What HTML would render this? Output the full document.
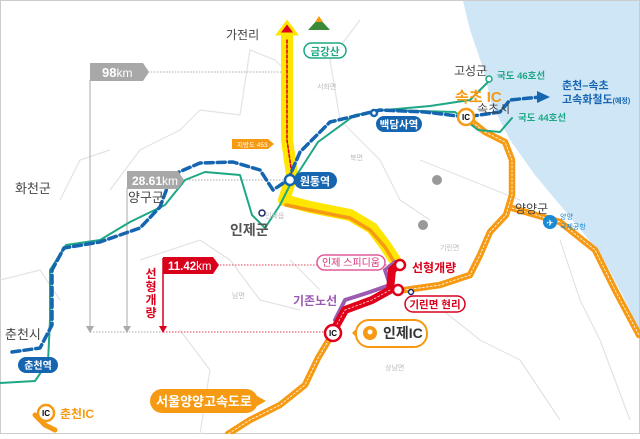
<!DOCTYPE html><html><head><meta charset="utf-8"><style>
body{margin:0;width:640px;height:434px;overflow:hidden;background:#fff;font-family:"Liberation Sans","Noto Sans CJK KR",sans-serif}
</style></head><body>
<svg width="640" height="434" viewBox="0 0 640 434" xmlns="http://www.w3.org/2000/svg" font-family="Liberation Sans, Noto Sans CJK KR, sans-serif">
<rect x="0.5" y="0.5" width="639" height="433" fill="#fff" stroke="#ccc"/>
<path d="M463,1 L639,1 L639,330 L625,300 L605,262 L585,235 L560,205 L535,175 L510,140 L492,105 L482,65 L470,30Z" fill="#cfe6f6"/>
<g fill="none" stroke="#e3e3e3" stroke-width="1.2">
<path d="M110,190 L140,150 L180,130 L200,110 L240,115 L250,50 L275,60 L285,70"/>
<path d="M60,200 L80,160 L110,150"/><path d="M140,260 L200,240 L230,260 L260,300 L300,310"/>
<path d="M360,20 L330,60 L340,120 L380,160 L400,200 L430,220"/><path d="M0,280 L40,270 L60,300"/>
<path d="M420,160 L470,180 L520,200"/><path d="M430,300 L480,340 L520,360 L560,420"/><path d="M180,330 L210,370 L200,434"/>
<path d="M560,240 L580,300 L600,340 L630,420"/><path d="M290,260 L320,290"/>
</g>
<g stroke="#aaa" stroke-width="1" fill="none">
<path d="M148,72 L285,72" stroke-dasharray="1.5,1.5"/><path d="M183,180 L288,180" stroke-dasharray="1.5,1.5"/>
<path d="M90,80 L90,330"/><path d="M127,188 L127,330"/><path d="M90,332 L163,332" stroke-dasharray="1.5,1.5"/>
</g>
<path d="M86,326 L90,333 L94,326Z M123,326 L127,333 L131,326Z" fill="#aaa"/>
<path d="M217,265 L398,265 M163,332 L333,332" stroke="#e0405a" stroke-width="1" stroke-dasharray="1.5,1.5"/>
<path d="M163,258 L163,330" stroke="#d9001b" stroke-width="1.5"/><path d="M159,326 L163,333 L167,326Z" fill="#d9001b"/>
<g fill="none" stroke-linecap="round" stroke-linejoin="round">
<path d="M466,117 L485,132 L505,142 L512,160 L512,195 L506,215 L490,232 L480,255 L470,275 L440,285 L405,290 M512,208 L560,222 L595,250 L615,290 L639,335 M333,333 L318,358 L305,385 L280,405 L250,420 L228,434" stroke="#f59a12" stroke-width="6.5"/>
<path d="M466,117 L485,132 L505,142 L512,160 L512,195 L506,215 L490,232 L480,255 L470,275 L440,285 L405,290 M512,208 L560,222 L595,250 L615,290 L639,335 M333,333 L318,358 L305,385 L280,405 L250,420 L228,434" stroke="#fff" stroke-width="0.8" stroke-dasharray="2,2"/>
<path d="M35,415 L45,425 L55,430" stroke="#f59a12" stroke-width="5"/>
<path d="M287,35 L287,140 L292,175 L284,200 L310,207 L350,215 L372,228 L385,245 L398,265" stroke="#ffe600" stroke-width="12"/>
<path d="M286,205 L310,210 L350,218 L370,230 L385,247 L396,265" stroke="#f59a12" stroke-width="3.5"/>
<path d="M287,40 L287,140 L292,175" stroke="#e0001a" stroke-width="1.6" stroke-dasharray="3,2"/>
<path d="M335,320 L345,300 L370,292 L390,285 L385,270 L395,262" stroke="#9a5bb0" stroke-width="4"/>
<path d="M335,328 L345,310 L372,300 L390,290 L392,270 L398,265" stroke="#e0001a" stroke-width="8"/>
<path d="M335,328 L345,310 L372,300 L390,290" stroke="#fff" stroke-width="0.7" stroke-dasharray="2,2"/>
<path d="M0,383 L35,381 L48,362 L50,320 L50,270 L66,245 L100,240 L130,222 L165,205 L185,180 L205,172 L240,175 L252,215 L265,228 L280,205 L290,185 L300,170 L318,142 L355,115 L385,110 L430,106 L470,100 L490,80 M385,110 L455,112 L478,130 L500,132 L512,118" stroke="#1ea784" stroke-width="2"/>
<path d="M12,352 L40,348 L52,325 L52,270 L64,248 L100,242 L140,228 L160,207 L172,175 L200,163 L233,162 L260,170 L273,190 L288,180 L300,152 L330,122 L380,110 L425,112 L466,117 L500,112 L510,100 L540,97" stroke="#1565b0" stroke-width="3.5" stroke-dasharray="8,4"/>
</g>
<path d="M537,91 L550,97 L537,103Z" fill="#1565b0"/>
<path d="M287,22 L278,34 L296,34Z" fill="#e0001a" stroke="#ffe600" stroke-width="3"/>
<path d="M308,30 L319,18 L330,30Z" fill="#3a8a3a"/><path d="M319,16 L323,22 L315,22Z" fill="#f59a12"/>
<g stroke-width="2.5" fill="#fff">
<circle cx="290" cy="180" r="5" stroke="#1565b0"/><circle cx="374" cy="113" r="3" stroke="#1565b0"/>
<circle cx="489" cy="79" r="3" stroke="#1ea784" stroke-width="1.5"/><circle cx="262" cy="213" r="3" stroke="#1e2a6e" stroke-width="1.5"/>
<circle cx="400" cy="265" r="5" stroke="#e0001a"/><circle cx="398" cy="290" r="5" stroke="#e0001a"/>
<circle cx="411" cy="292" r="2.5" stroke="#1e2a6e" stroke-width="1.5"/>
</g>
<circle cx="466" cy="117" r="8" fill="#fff" stroke="#f59a12" stroke-width="2.5"/><text x="466" y="120" font-size="8" font-weight="bold" text-anchor="middle">IC</text>
<circle cx="333" cy="333" r="8" fill="#fff" stroke="#e0001a" stroke-width="2.5"/><text x="333" y="336" font-size="8" font-weight="bold" text-anchor="middle">IC</text>
<circle cx="46" cy="413" r="8" fill="#fff" stroke="#f59a12" stroke-width="2.5"/><text x="46" y="416" font-size="8" font-weight="bold" text-anchor="middle">IC</text>
<path d="M90,63 L143,63 L149,72 L143,81 L90,81Z" fill="#a8a8a8"/><text x="102" y="77" font-size="13" font-weight="bold" fill="#fff">98<tspan font-weight="normal" font-size="12">km</tspan></text>
<path d="M127,171 L178,171 L184,180 L178,189 L127,189Z" fill="#a8a8a8"/><text x="132" y="185" font-size="12" font-weight="bold" fill="#fff">28.61<tspan font-weight="normal">km</tspan></text>
<path d="M163,257 L213,257 L219,265 L213,274 L163,274Z" fill="#d9001b"/><text x="168" y="270" font-size="11.5" font-weight="bold" fill="#fff">11.42<tspan font-weight="normal">km</tspan></text>
<path d="M232,139 L268,139 L274,144 L268,149 L232,149Z" fill="#f59a12"/><text x="237" y="147" font-size="6.5" fill="#fff">지방도 453</text>
<rect x="304" y="43" width="42" height="15" rx="7.5" fill="#fff" stroke="#1ea784" stroke-width="1.5"/><text x="325" y="55" font-size="10.5" font-weight="bold" fill="#1ea784" text-anchor="middle">금강산</text>
<rect x="376" y="116" width="46" height="16" rx="8" fill="#1565b0"/><text x="399" y="128" font-size="10.5" font-weight="bold" fill="#fff" text-anchor="middle">백담사역</text>
<rect x="294" y="172" width="43" height="17" rx="8.5" fill="#1565b0"/><text x="315" y="185" font-size="11" font-weight="bold" fill="#fff" text-anchor="middle">원통역</text>
<rect x="18" y="357" width="40" height="16" rx="8" fill="#1565b0"/><text x="38" y="369" font-size="10" font-weight="bold" fill="#fff" text-anchor="middle">춘천역</text>
<rect x="317" y="255" width="68" height="15" rx="7.5" fill="#fff" stroke="#e25a9a" stroke-width="1.5"/><text x="351" y="266" font-size="10" fill="#d9307a" text-anchor="middle">인제 스피디움</text>
<rect x="405" y="296" width="60" height="16" rx="8" fill="#fff" stroke="#d9001b" stroke-width="1.5"/><text x="435" y="308" font-size="10.5" font-weight="bold" fill="#d9001b" text-anchor="middle">기린면 현리</text>
<rect x="356" y="320" width="71" height="27" rx="13" fill="#fff" stroke="#f59a12" stroke-width="2"/><path d="M352,333 L357,328 L357,338Z" fill="#f59a12"/>
<circle cx="370" cy="333" r="7" fill="#f59a12"/><circle cx="370" cy="332" r="2.5" fill="#fff"/>
<text x="383" y="338" font-size="14" font-weight="bold" fill="#333">인제IC</text>
<rect x="150" y="389" width="108" height="24" rx="12" fill="#f59a12"/><path d="M257,396 L266,401 L257,406Z" fill="#f59a12"/><text x="204" y="406" font-size="13" font-weight="bold" fill="#fff" text-anchor="middle">서울양양고속도로</text>
<circle cx="550" cy="222" r="7" fill="#1a8ad4"/><text x="550" y="226" font-size="9" fill="#fff" text-anchor="middle">✈</text>
<g font-size="12" fill="#444">
<text x="226" y="39">가전리</text><text x="454" y="75">고성군</text><text x="477" y="113">속초시</text>
<text x="15" y="193" font-size="13">화천군</text><text x="128" y="202" font-size="13">양구군</text>
<text x="230" y="235" font-size="14" font-weight="bold" fill="#555">인제군</text><text x="5" y="339" font-size="13">춘천시</text>
<text x="515" y="213">양양군</text>
</g>
<g font-size="7" fill="#bbb"><text x="317" y="89">서화면</text><text x="350" y="160">북면</text><text x="232" y="298">남면</text><text x="385" y="370">상남면</text><text x="440" y="250">기린면</text><text x="265" y="218">인제읍</text></g>
<text x="497" y="79" font-size="9.5" fill="#1ea784" font-weight="bold">국도 46호선</text>
<text x="518" y="121" font-size="9.5" fill="#1ea784" font-weight="bold">국도 44호선</text>
<text x="455" y="102" font-size="15" font-weight="bold" fill="#f59a12">속초 IC</text>
<text x="562" y="89" font-size="11" font-weight="bold" fill="#1565b0">춘천–속초</text>
<text x="562" y="103" font-size="11" font-weight="bold" fill="#1565b0">고속화철도<tspan font-size="7">(예정)</tspan></text>
<text x="412" y="272" font-size="12" font-weight="bold" fill="#d9001b">선형개량</text>
<text x="293" y="305" font-size="12" font-weight="bold" fill="#9a5bb0">기존노선</text>
<g font-size="12" font-weight="bold" fill="#d9001b" text-anchor="middle"><text x="151" y="278">선</text><text x="151" y="291">형</text><text x="151" y="304">개</text><text x="151" y="317">량</text></g>
<text x="60" y="418" font-size="12" font-weight="bold" fill="#f59a12">춘천IC</text>
<text x="560" y="219" font-size="7" fill="#1a8ad4">양양</text><text x="560" y="229" font-size="7" fill="#1a8ad4">국제공항</text>
<circle cx="437" cy="180" r="5" fill="#999"/><circle cx="423" cy="225" r="5" fill="#999"/>
</svg>
</body></html>
